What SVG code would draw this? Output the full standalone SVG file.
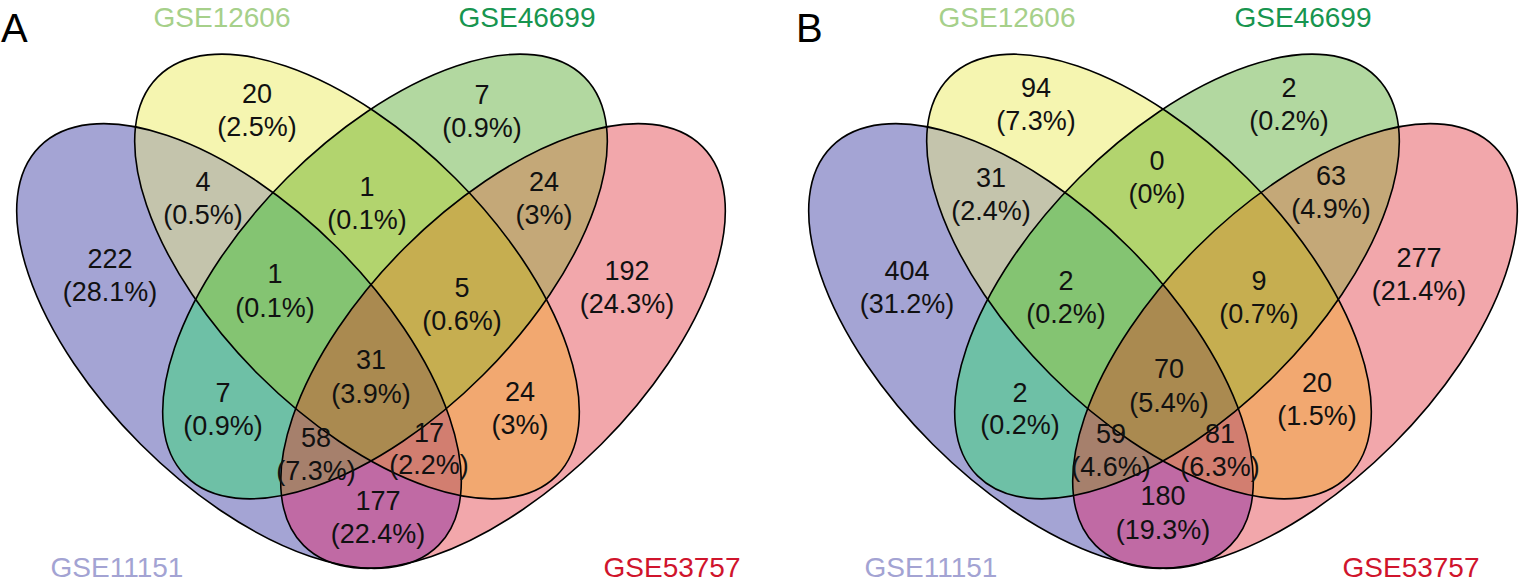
<svg xmlns="http://www.w3.org/2000/svg" xmlns:xlink="http://www.w3.org/1999/xlink" width="1520" height="584" viewBox="0 0 1520 584">
<style>
.num{font-family:"Liberation Sans",Arial,Helvetica,sans-serif;font-size:27px;fill:#111;text-anchor:middle}
.set{font-family:"Liberation Sans",Arial,Helvetica,sans-serif;font-size:28px;text-anchor:middle}
.panel{font-family:"Liberation Sans",Arial,Helvetica,sans-serif;font-size:40px;fill:#000}
.outline{fill:none;stroke:#000;stroke-width:1.6}
</style>
<defs>
<ellipse id="eA" cx="239" cy="346" rx="282" ry="139" transform="rotate(45 239 346)"/>
<ellipse id="eB" cx="357" cy="276.5" rx="282" ry="139" transform="rotate(45 357 276.5)"/>
<ellipse id="eC" cx="385" cy="276.5" rx="282" ry="139" transform="rotate(-45 385 276.5)"/>
<ellipse id="eD" cx="503" cy="346" rx="282" ry="139" transform="rotate(-45 503 346)"/>
<clipPath id="cA"><use href="#eA"/></clipPath>
<clipPath id="cB"><use href="#eB"/></clipPath>
<clipPath id="cC"><use href="#eC"/></clipPath>
<clipPath id="cD"><use href="#eD"/></clipPath>
<g id="fills">
<use href="#eA" fill="#A4A4D4"/>
<use href="#eB" fill="#F5F5B0"/>
<use href="#eC" fill="#B2D8A0"/>
<use href="#eD" fill="#F2A7AB"/>
<use href="#eB" clip-path="url(#cA)" fill="#C4C4AC"/>
<use href="#eC" clip-path="url(#cA)" fill="#6EC0A6"/>
<use href="#eD" clip-path="url(#cA)" fill="#C06AA4"/>
<use href="#eC" clip-path="url(#cB)" fill="#B2D46E"/>
<use href="#eD" clip-path="url(#cB)" fill="#F2A870"/>
<use href="#eD" clip-path="url(#cC)" fill="#C4A878"/>
<g clip-path="url(#cA)"><use href="#eC" clip-path="url(#cB)" fill="#84C472"/></g>
<g clip-path="url(#cA)"><use href="#eD" clip-path="url(#cB)" fill="#D27E70"/></g>
<g clip-path="url(#cA)"><use href="#eD" clip-path="url(#cC)" fill="#A6806C"/></g>
<g clip-path="url(#cB)"><use href="#eD" clip-path="url(#cC)" fill="#C6AE50"/></g>
<g clip-path="url(#cA)"><g clip-path="url(#cB)"><use href="#eD" clip-path="url(#cC)" fill="#AA8A50"/></g></g>
</g>
</defs>

<g id="panelA">
<text class="panel" x="1" y="42">A</text>
<use href="#fills"/>
<g id="connectors-A"></g>
<g id="A-GSE11151"><use href="#eA" class="outline"/><text class="set" x="117" y="577" fill="#A3A3D3">GSE11151</text></g>
<g id="A-GSE12606"><use href="#eB" class="outline"/><text class="set" x="222" y="27" fill="#A6D08A">GSE12606</text></g>
<g id="A-GSE46699"><use href="#eC" class="outline"/><text class="set" x="527" y="27" fill="#17954F">GSE46699</text></g>
<g id="A-GSE53757"><use href="#eD" class="outline"/><text class="set" x="672" y="577" fill="#D0142C">GSE53757</text></g>
<g id="A-counts">
<text class="num" x="110" y="268">222<tspan x="110" dy="33">(28.1%)</tspan></text>
<text class="num" x="257" y="103">20<tspan x="257" dy="33">(2.5%)</tspan></text>
<text class="num" x="482" y="104">7<tspan x="482" dy="33">(0.9%)</tspan></text>
<text class="num" x="627" y="280">192<tspan x="627" dy="33">(24.3%)</tspan></text>
<text class="num" x="203" y="191">4<tspan x="203" dy="33">(0.5%)</tspan></text>
<text class="num" x="367" y="196">1<tspan x="367" dy="33">(0.1%)</tspan></text>
<text class="num" x="544" y="191">24<tspan x="544" dy="33">(3%)</tspan></text>
<text class="num" x="275" y="283">1<tspan x="275" dy="34">(0.1%)</tspan></text>
<text class="num" x="462" y="297">5<tspan x="462" dy="33">(0.6%)</tspan></text>
<text class="num" x="371" y="369">31<tspan x="371" dy="34">(3.9%)</tspan></text>
<text class="num" x="223" y="402">7<tspan x="223" dy="33">(0.9%)</tspan></text>
<text class="num" x="520" y="401">24<tspan x="520" dy="33">(3%)</tspan></text>
<text class="num" x="316" y="447">58<tspan x="316" dy="33">(7.3%)</tspan></text>
<text class="num" x="429" y="442">17<tspan x="429" dy="32">(2.2%)</tspan></text>
<text class="num" x="378" y="510">177<tspan x="378" dy="33">(22.4%)</tspan></text>
</g>
</g>

<g id="panelB" transform="translate(792,0)">
<text class="panel" x="4" y="42">B</text>
<use href="#fills"/>
<g id="connectors-B"></g>
<g id="B-GSE11151"><use href="#eA" class="outline"/><text class="set" x="139" y="577" fill="#A3A3D3">GSE11151</text></g>
<g id="B-GSE12606"><use href="#eB" class="outline"/><text class="set" x="215" y="27" fill="#A6D08A">GSE12606</text></g>
<g id="B-GSE46699"><use href="#eC" class="outline"/><text class="set" x="511" y="27" fill="#17954F">GSE46699</text></g>
<g id="B-GSE53757"><use href="#eD" class="outline"/><text class="set" x="619" y="577" fill="#D0142C">GSE53757</text></g>
<g id="B-counts">
<text class="num" x="115" y="280">404<tspan x="115" dy="33">(31.2%)</tspan></text>
<text class="num" x="244" y="97">94<tspan x="244" dy="33">(7.3%)</tspan></text>
<text class="num" x="497" y="97">2<tspan x="497" dy="33">(0.2%)</tspan></text>
<text class="num" x="627" y="267">277<tspan x="627" dy="33">(21.4%)</tspan></text>
<text class="num" x="199" y="187">31<tspan x="199" dy="33">(2.4%)</tspan></text>
<text class="num" x="365" y="170">0<tspan x="365" dy="33">(0%)</tspan></text>
<text class="num" x="539" y="185">63<tspan x="539" dy="33">(4.9%)</tspan></text>
<text class="num" x="274" y="290">2<tspan x="274" dy="33">(0.2%)</tspan></text>
<text class="num" x="467" y="290">9<tspan x="467" dy="33">(0.7%)</tspan></text>
<text class="num" x="377" y="378">70<tspan x="377" dy="34">(5.4%)</tspan></text>
<text class="num" x="228" y="402">2<tspan x="228" dy="32">(0.2%)</tspan></text>
<text class="num" x="525" y="392">20<tspan x="525" dy="33">(1.5%)</tspan></text>
<text class="num" x="319" y="443">59<tspan x="319" dy="33">(4.6%)</tspan></text>
<text class="num" x="428" y="443">81<tspan x="428" dy="33">(6.3%)</tspan></text>
<text class="num" x="371" y="505">180<tspan x="371" dy="34">(19.3%)</tspan></text>
</g>
</g>
</svg>
